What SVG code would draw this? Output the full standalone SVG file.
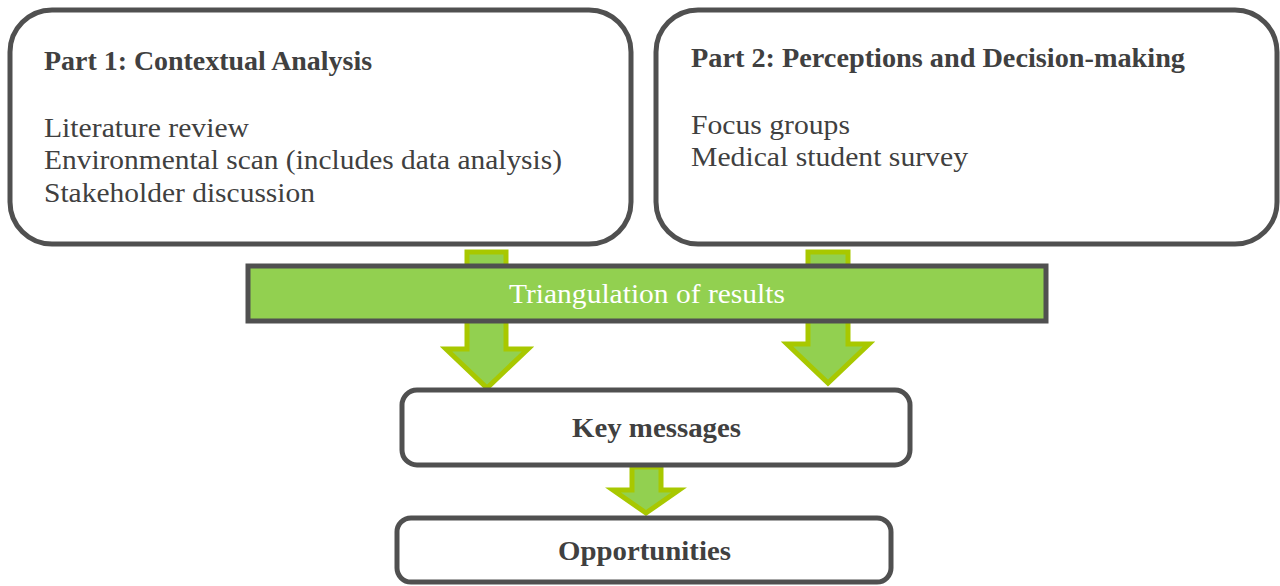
<svg xmlns="http://www.w3.org/2000/svg" width="1280" height="586" viewBox="0 0 1280 586">
<style>
.box{fill:#ffffff;stroke:#505050;stroke-width:5}
.bar{fill:#92D050;stroke:#505050;stroke-width:5}
.arr{fill:#92D050;stroke:#A8C800;stroke-width:5;stroke-linejoin:miter}
.t{font-family:"Liberation Serif","DejaVu Serif",serif;font-size:27px;fill:#404040}
.b{font-family:"Liberation Serif","DejaVu Serif",serif;font-size:27px;font-weight:bold;fill:#404040}
.w{font-family:"Liberation Serif","DejaVu Serif",serif;font-size:27px;fill:#ffffff}
</style>
<rect width="1280" height="586" fill="#ffffff"/>
<g id="connectors">
<polygon class="arr" points="467,252 506,252 506,349 528,349 487,388 446,349 467,349"/>
<polygon class="arr" points="808,252 848,252 848,344 869,344 828,383 787,344 808,344"/>
<polygon class="arr" points="632,467 661,467 661,490 679,490 646,513 613,490 632,490"/>
</g>
<g id="part1">
<rect class="box" x="10" y="10" width="621" height="234" rx="42"/>
<text class="b" x="44" y="70" textLength="328" lengthAdjust="spacingAndGlyphs">Part 1: Contextual Analysis</text>
<text class="t" x="44" y="137" textLength="205" lengthAdjust="spacingAndGlyphs">Literature review</text>
<text class="t" x="44" y="169" textLength="518" lengthAdjust="spacingAndGlyphs">Environmental scan (includes data analysis)</text>
<text class="t" x="44" y="202" textLength="271" lengthAdjust="spacingAndGlyphs">Stakeholder discussion</text>
</g>
<g id="part2">
<rect class="box" x="656" y="10" width="621" height="234" rx="42"/>
<text class="b" x="691" y="67" textLength="494" lengthAdjust="spacingAndGlyphs">Part 2: Perceptions and Decision-making</text>
<text class="t" x="691" y="134" textLength="159" lengthAdjust="spacingAndGlyphs">Focus groups</text>
<text class="t" x="691" y="166" textLength="277" lengthAdjust="spacingAndGlyphs">Medical student survey</text>
</g>
<g id="triangulation">
<rect class="bar" x="248" y="266" width="798" height="55"/>
<text class="w" x="509" y="303" textLength="276" lengthAdjust="spacingAndGlyphs">Triangulation of results</text>
</g>
<g id="key-messages">
<rect class="box" x="402" y="390" width="508" height="75" rx="15"/>
<text class="b" x="572" y="437" textLength="169" lengthAdjust="spacingAndGlyphs">Key messages</text>
</g>
<g id="opportunities">
<rect class="box" x="397" y="518" width="494" height="64" rx="14"/>
<text class="b" x="558" y="560" textLength="173" lengthAdjust="spacingAndGlyphs">Opportunities</text>
</g>
</svg>
